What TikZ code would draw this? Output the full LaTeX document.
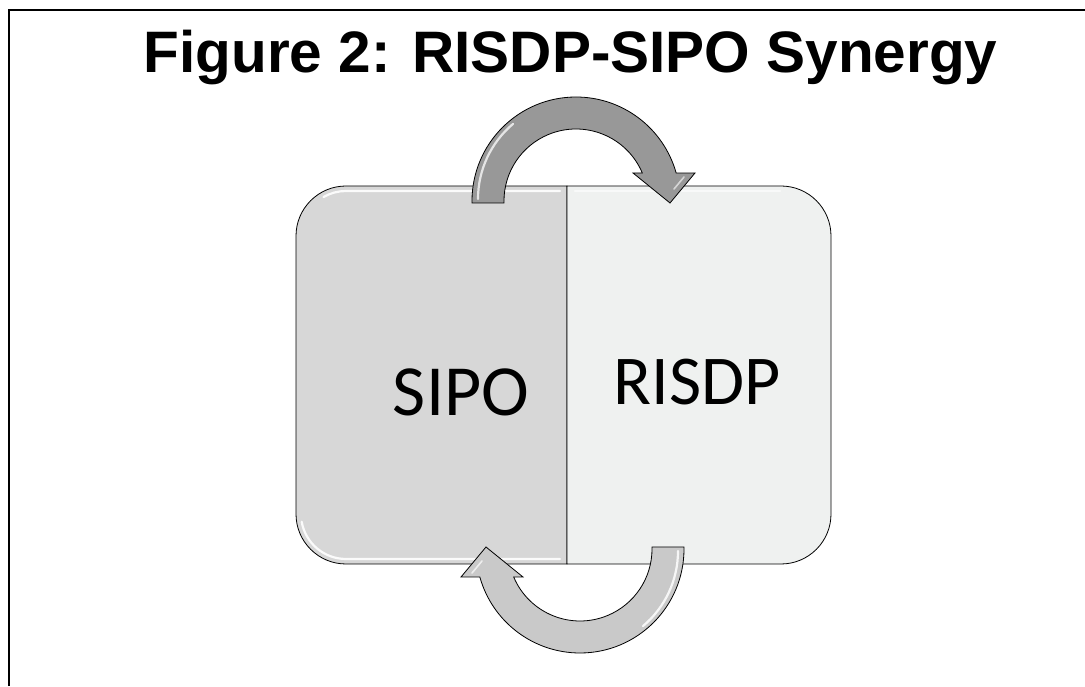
\documentclass[tikz,border=0pt]{standalone}
\usepackage{fontspec}
\newfontfamily\titlefont{Liberation Sans}
\newfontfamily\bodyfont{Carlito}
\definecolor{leftfill}{HTML}{D7D7D7}
\definecolor{rightfill}{HTML}{EFF1F0}
\definecolor{arrowdark}{HTML}{989898}
\definecolor{arrowlight}{HTML}{C9C9C9}
\tikzset{
  halfbox/.style={draw=black, line width=0.8pt},
  cyclearrow/.style={draw=black, line width=0.8pt, line join=miter},
  gloss/.style={draw=white, line width=2.2pt, line cap=round, opacity=0.85},
  label/.style={inner sep=0pt, anchor=base, font=\bodyfont},
}
\begin{document}
\begin{tikzpicture}[x=1pt,y=1pt]
\useasboundingbox (0,0) rectangle (1085,686);
\fill[white] (0,0) rectangle (1085,686);
% frame (left and top only)
\draw[line width=2.2pt] (9,0) -- (9,676) -- (1085,676);
% title
\node[inner sep=0pt, anchor=base, font=\titlefont\bfseries\fontsize{58.5}{60}\selectfont] (title) at (570.5,613) {Figure 2: RISDP-SIPO Synergy};
% left half
\path[halfbox, fill=leftfill] (567,500) -- (346,500) arc[start angle=90,end angle=180,radius=50] -- (296,172) arc[start angle=180,end angle=270,radius=50] -- (567,122) -- cycle;
% right half
\path[halfbox, fill=rightfill] (567,500) -- (781,500) arc[start angle=90,end angle=0,radius=50] -- (831,172) arc[start angle=0,end angle=-90,radius=50] -- (567,122) -- cycle;
% gloss on box edges
\draw[gloss, opacity=0.9] (560,495) -- (346,495) arc[start angle=90,end angle=120,radius=45];
\draw[gloss, opacity=0.9] (301.7,164.2) arc[start angle=190,end angle=270,radius=45] -- (560,127);
\draw[gloss, opacity=0.6] (575,495) -- (780,495);
% text
\node[label, font=\bodyfont\fontsize{72}{72}\selectfont] (sipo) at (461,270) {SIPO};
\node[label, font=\bodyfont\fontsize{70}{70}\selectfont] (risdp) at (697.5,281) {RISDP};
% top arrow
\path[cyclearrow, fill=arrowdark] (472,483) -- (472,485) arc[start angle=180,end angle=15.6,radius=104] -- (695,513) -- (670,483) -- (633,513) -- (642.3,513) arc[start angle=22.9,end angle=180,radius=72] -- (504,483) -- cycle;
\draw[gloss, opacity=0.75] (478,487) arc[start angle=180,end angle=130,radius=98];
\draw[gloss, opacity=0.6, line width=1.6pt] (684,509) -- (674,497);
% bottom arrow (rotated copy)
\begin{scope}[rotate around={180:(578,311)}]
\path[cyclearrow, fill=arrowlight] (472,483) -- (472,485) arc[start angle=180,end angle=15.6,radius=104] -- (695,513) -- (670,483) -- (633,513) -- (642.3,513) arc[start angle=22.9,end angle=180,radius=72] -- (504,483) -- cycle;
\draw[gloss, opacity=0.85] (478,487) arc[start angle=180,end angle=130,radius=98];
\draw[gloss, opacity=0.7, line width=1.6pt] (684,509) -- (674,497);
\end{scope}
\end{tikzpicture}
\end{document}
